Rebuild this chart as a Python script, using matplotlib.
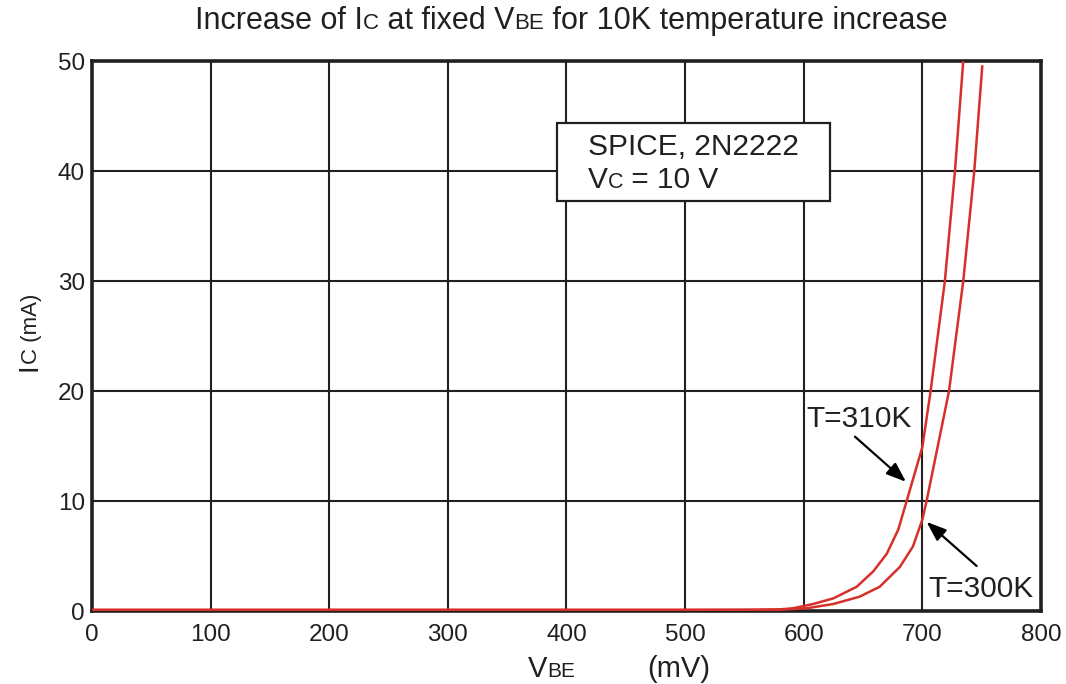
import matplotlib
matplotlib.use('Agg')
import matplotlib.pyplot as plt
from matplotlib.patches import Rectangle
from matplotlib.transforms import offset_copy

plt.rcParams['font.family'] = ['Liberation Sans', 'DejaVu Sans']

# curves (VBE in mV, IC in mA)
vbe_310 = [0, 500, 560, 580, 591, 608, 625, 644.6, 658.6, 670, 679.7, 686.8, 700, 707, 719, 727.5, 734.5]
ic_310 = [0.1, 0.1, 0.12, 0.15, 0.25, 0.64, 1.15, 2.2, 3.6, 5.2, 7.4, 10, 14.9, 20, 30, 40, 50]

vbe_300 = [0, 550, 580, 602.5, 625, 647, 664, 681, 692, 700, 703.6, 722.5, 734.5, 743.8, 750.5]
ic_300 = [0.1, 0.1, 0.12, 0.25, 0.64, 1.3, 2.2, 4.0, 5.85, 8.3, 10, 20, 30, 40, 49.5]

x_ticks = [0, 100, 200, 300, 400, 500, 600, 700, 800]
y_ticks = [0, 10, 20, 30, 40, 50]

INK = '#231f20'
RED = '#d7302a'

fig = plt.figure(figsize=(10.66, 6.84), dpi=100)
ax = fig.add_axes([0.0863, 0.1067, 0.8902, 0.8041])
renderer = fig.canvas.get_renderer()


def rich_text(x, y, pieces, transform, rotation=0):
    # draw text pieces of different sizes on one baseline
    off = 0
    for s, size in pieces:
        if rotation == 0:
            t = offset_copy(transform, fig=fig, x=off, y=0, units='dots')
        else:
            t = offset_copy(transform, fig=fig, x=0, y=off, units='dots')
        txt = fig.text(x, y, s, transform=t, fontsize=size, color=INK,
                       ha='left', va='baseline', rotation=rotation,
                       rotation_mode='anchor', zorder=5)
        ext = txt.get_window_extent(renderer)
        off += ext.width if rotation == 0 else ext.height


ax.plot(vbe_310, ic_310, color=RED, lw=1.8, zorder=3)
ax.plot(vbe_300, ic_300, color=RED, lw=1.8, zorder=3)

ax.set_xlim(0, 800)
ax.set_ylim(0, 50)
ax.set_xticks(x_ticks)
ax.set_yticks(y_ticks)
ax.grid(True, color=INK, lw=1.5)
ax.set_axisbelow(True)
ax.tick_params(axis='both', length=0, labelsize=17.5, colors=INK)
ax.tick_params(axis='x', pad=9)
ax.tick_params(axis='y', pad=5)
for sp in ax.spines.values():
    sp.set_linewidth(2.6)
    sp.set_color(INK)

# info box
ax.add_patch(Rectangle((0.49, 0.745), 0.288, 0.142, transform=ax.transAxes,
                       facecolor='white', edgecolor=INK, lw=1.6, zorder=4))
ax.text(0.5227, 0.829, 'SPICE, 2N2222', transform=ax.transAxes, fontsize=21.5,
        color=INK, ha='left', va='baseline', zorder=5)
rich_text(0.5227, 0.769, [('V', 21.5), ('C', 15.5), (' = 10 V', 21.5)], ax.transAxes)

# curve labels and arrows
arrow = dict(arrowstyle='-|>,head_length=1.2,head_width=0.45',
             color='black', lw=1.6, shrinkA=0, shrinkB=0)
ax.text(601.9, 16.75, 'T=310K', fontsize=21.5, color=INK, ha='left', va='baseline', zorder=5)
ax.annotate('', xy=(686.2, 11.75), xytext=(643.2, 15.85), arrowprops=arrow, zorder=5)
ax.text(704.8, 1.23, 'T=300K', fontsize=21.5, color=INK, ha='left', va='baseline', zorder=5)
ax.annotate('', xy=(703.6, 8.1), xytext=(745.8, 4.09), arrowprops=arrow, zorder=5)

# title and axis labels
rich_text(0.1829, 0.957, [('Increase of I', 22), ('C', 16), (' at fixed V', 22),
                          ('BE', 16), (' for 10K temperature increase', 22)],
          fig.transFigure)
rich_text(0.4953, 0.0102, [('V', 21), ('BE', 15)], fig.transFigure)
fig.text(0.607, 0.0102, '(mV)', fontsize=21, color=INK, ha='left', va='baseline')
rich_text(0.0347, 0.457, [('I', 20), ('C (mA)', 16)], fig.transFigure, rotation=90)

fig.savefig('out.png', dpi=100)
